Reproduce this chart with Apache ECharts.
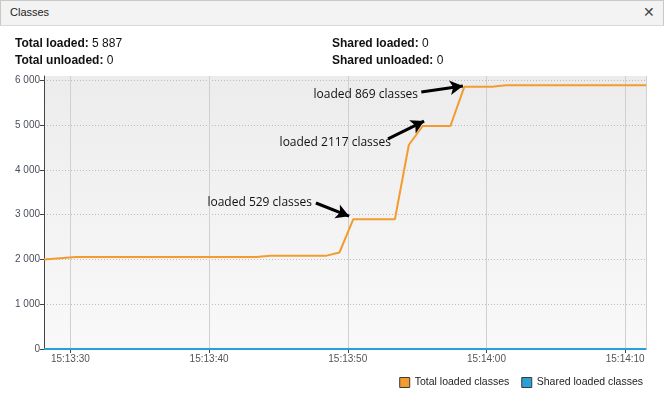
<!DOCTYPE html>
<html>
<head>
<meta charset="utf-8">
<script src="https://cdn.jsdelivr.net/npm/echarts@6/dist/echarts.min.js"></script>
<style>
  body { margin: 0; background: #ffffff; font-family: 'Liberation Sans', Arial, sans-serif; }
  #wrap { position: relative; width: 664px; height: 401px; overflow: hidden; }
  #chart { position: absolute; left: 0; top: 0; width: 664px; height: 401px; }
  .titlebar { position: absolute; left: 0; top: 0; width: 662px; height: 24px; background: #f3f3f3;
    border: 1px solid #c8c8c8; border-bottom: 1px solid #d8d8d8; }
  .titlebar .t { position: absolute; left: 9px; top: 5px; font-size: 11px; color: #222; }
  .titlebar .x { position: absolute; right: 8px; top: 3px; font-size: 14px; color: #444; }
  .stat { position: absolute; font-size: 12px; color: #111; }
  .stat b { font-weight: bold; }
</style>
</head>
<body>
<div id="wrap">
  <div id="chart"></div>
  <div class="titlebar"><span class="t">Classes</span><span class="x">✕</span></div>
  <div class="stat" style="left:15px; top:36px"><b>Total loaded:</b> 5 887</div>
  <div class="stat" style="left:15px; top:53px"><b>Total unloaded:</b> 0</div>
  <div class="stat" style="left:332px; top:36px"><b>Shared loaded:</b> 0</div>
  <div class="stat" style="left:332px; top:53px"><b>Shared unloaded:</b> 0</div>
</div>
<script>
  // seconds after 15:13:00
  var times = [28.1, 30.4, 43.4, 44.4, 48.4, 49.4, 50.4, 53.4, 54.4, 55.4, 57.4, 58.4, 60.4, 61.4, 71.5]
  var totalLoaded = [2000, 2055, 2055, 2080, 2080, 2155, 2900, 2900, 4555, 4980, 4980, 5855, 5855, 5887, 5887]
  var sharedLoaded = [0, 0, 0, 0, 0, 0, 0, 0, 0, 0, 0, 0, 0, 0, 0]
  var yTicks = [0, 1000, 2000, 3000, 4000, 5000, 6000]

  // annotations: text centre and arrow from -> to, in [seconds, classes]
  var notes = ['loaded 529 classes', 'loaded 2117 classes', 'loaded 869 classes']
  var noteAt = [[43.65, 3260], [49.1, 4600], [51.3, 5690]]
  var arrowFrom = [[47.7, 3260], [52.9, 4690], [55.3, 5740]]
  var arrowTo = [[50.1, 2965], [55.5, 5090], [58.3, 5875]]

  var base = new Date(2024, 0, 1, 15, 13, 0).getTime()
  var ts = function (s) { return base + s * 1000 }
  var pad = function (n) { return (n < 10 ? '0' : '') + n }

  var chart = echarts.init(document.getElementById('chart'))
  chart.setOption({
    animation: false,
    textStyle: { fontFamily: 'Liberation Sans' },
    grid: {
      left: 44, right: 18, top: 76, bottom: 52,
      show: true, borderWidth: 0,
      backgroundColor: new echarts.graphic.LinearGradient(0, 0, 0, 1, [
        { offset: 0, color: '#ececec' },
        { offset: 1, color: '#f9f9f9' }
      ])
    },
    legend: {
      right: 21, top: 377, padding: 0,
      itemWidth: 10, itemHeight: 10, itemGap: 12,
      icon: 'rect',
      itemStyle: { borderColor: '#3a3a3a', borderWidth: 1 },
      textStyle: { fontSize: 10.5, color: '#222', fontFamily: 'Liberation Sans' },
      data: ['Total loaded classes', 'Shared loaded classes']
    },
    xAxis: {
      type: 'time',
      min: ts(times[0]),
      max: ts(times[times.length - 1]),
      splitNumber: 4,
      axisLine: { lineStyle: { color: '#444' } },
      axisTick: { show: true, length: 4, lineStyle: { color: '#444' } },
      axisLabel: {
        fontSize: 10, color: '#555', margin: 5, showMinLabel: false, showMaxLabel: false,
        formatter: function (v) {
          var d = new Date(v)
          return pad(d.getHours()) + ':' + pad(d.getMinutes()) + ':' + pad(d.getSeconds())
        }
      },
      splitLine: { show: true, lineStyle: { color: '#d0d0d0', width: 1 } }
    },
    yAxis: {
      type: 'value',
      min: yTicks[0],
      max: 6096,
      interval: 1000,
      axisLine: { show: true, lineStyle: { color: '#444' } },
      axisTick: { show: true, length: 4, lineStyle: { color: '#444' } },
      axisLabel: {
        fontSize: 10, color: '#4a4f5a', margin: 4, showMaxLabel: false,
        formatter: function (v) {
          if (yTicks.indexOf(v) < 0) return ''
          return String(v).replace(/\B(?=(\d{3})+(?!\d))/g, ' ')
        }
      },
      splitLine: { show: true, showMaxLine: false, lineStyle: { color: '#bdbdbd', type: [1, 2] } }
    },
    series: [
      {
        name: 'Total loaded classes',
        type: 'line',
        color: '#f39b2e',
        showSymbol: false,
        lineStyle: { width: 2, color: '#f39b2e' },
        data: times.map(function (t, i) { return [ts(t), totalLoaded[i]] }),
        markLine: {
          silent: true,
          symbol: ['none', 'arrow'],
          symbolSize: [11, 13],
          label: { show: false },
          lineStyle: { color: '#000', width: 3, type: 'solid', curveness: 0.15 },
          data: arrowFrom.map(function (p, i) {
            return [
              { coord: [ts(p[0]), p[1]] },
              { coord: [ts(arrowTo[i][0]), arrowTo[i][1]] }
            ]
          })
        },
        markPoint: {
          silent: true,
          symbol: 'rect',
          symbolSize: 1,
          itemStyle: { color: 'rgba(0,0,0,0)' },
          label: {
            show: true, position: 'inside', color: '#111',
            fontSize: 12, fontFamily: 'Open Sans',
            formatter: function (p) { return p.name }
          },
          data: notes.map(function (n, i) {
            return { name: n, coord: [ts(noteAt[i][0]), noteAt[i][1]] }
          })
        }
      },
      {
        name: 'Shared loaded classes',
        type: 'line',
        color: '#2aa0d6',
        showSymbol: false,
        lineStyle: { width: 2, color: '#2aa0d6' },
        data: times.map(function (t, i) { return [ts(t), sharedLoaded[i]] })
      }
    ]
  })
</script>
</body>
</html>
